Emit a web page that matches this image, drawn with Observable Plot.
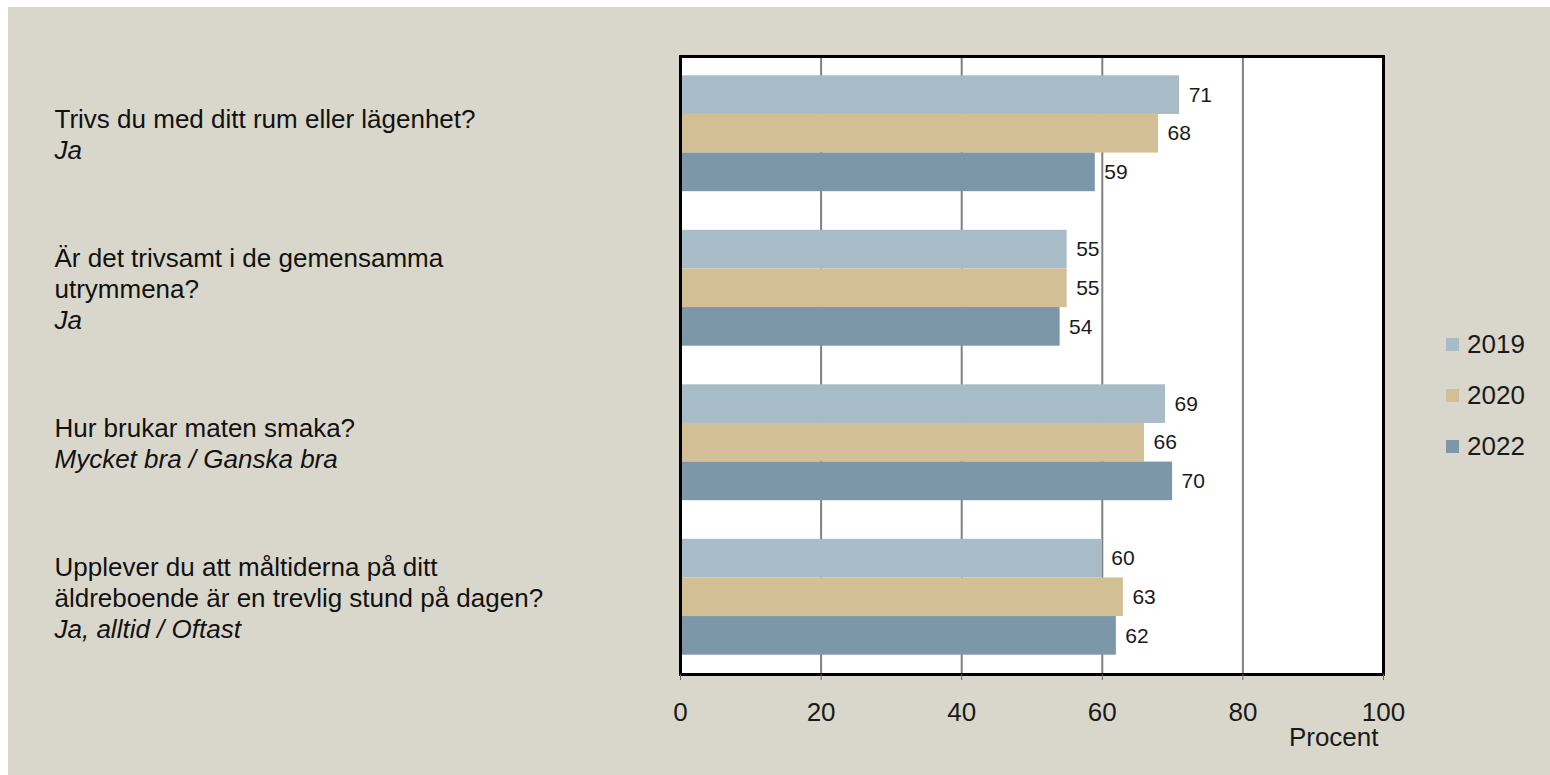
<!DOCTYPE html>
<html><head><meta charset="utf-8">
<script src="https://cdn.jsdelivr.net/npm/d3@7"></script>
<script src="https://cdn.jsdelivr.net/npm/@observablehq/plot@0.6"></script>
<style>
html,body{margin:0;padding:0;background:#fff;}
#page{position:absolute;left:8px;top:7px;width:1542px;height:768px;background:#d9d7cb;overflow:hidden;font-family:'Liberation Sans',Arial,sans-serif;}
#chart{position:absolute;left:0;top:0;}
#legend{position:absolute;left:1438px;top:312px;}
#legend .lg-swatch{height:51px;margin:0 !important;padding:0 !important;}
#legend .lg-swatch svg{margin-right:8px !important;}
</style></head><body>
<div id="page"><div id="chart"></div><div id="legend"></div></div>
<script>
const questions = [
  "Trivs du med ditt rum eller lägenhet?",
  "Är det trivsamt i de gemensamma\nutrymmena?",
  "Hur brukar maten smaka?",
  "Upplever du att måltiderna på ditt\näldreboende är en trevlig stund på dagen?"
];
const answers = ["Ja", "Ja", "Mycket bra / Ganska bra", "Ja, alltid / Oftast"];
const years = ["2019", "2020", "2022"];
const values2019 = [71, 55, 69, 60];
const values2020 = [68, 55, 66, 63];
const values2022 = [59, 54, 70, 62];
const xTicks = [0, 20, 40, 60, 80, 100];
const axisLabel = "Procent";
const colors = ["#a8bcc7", "#d3bf95", "#7b97a8"];

const seriesValues = [values2019, values2020, values2022];
const bars = [];
const yDomain = [];
questions.forEach((q, i) => {
  if (i > 0) yDomain.push("gap" + i);
  years.forEach((yr, j) => {
    const key = i + "|" + yr;
    yDomain.push(key);
    bars.push({key, year: yr, value: seriesValues[j][i]});
  });
});
const labels = questions.map((q, i) => {
  const n = q.split("\n").length;
  return {
    key: i + "|" + years[1],
    q: q + "\n",
    a: "\n".repeat(n) + answers[i]
  };
});

const font = "'Liberation Sans', Arial, sans-serif";
const chart = Plot.plot({
  width: 1542,
  height: 768,
  marginLeft: 672,
  marginRight: 167,
  marginTop: 49,
  marginBottom: 101,
  style: {background: "transparent", fontFamily: font, color: "#1a1a1a"},
  x: {domain: [0, 100]},
  y: {domain: yDomain, paddingInner: 0, paddingOuter: 0.5, round: false, axis: null},
  color: {domain: years, range: colors},
  marks: [
    Plot.frame({fill: "#fff", stroke: null}),
    Plot.gridX({ticks: [20, 40, 60, 80], stroke: "#808080", strokeOpacity: 1, strokeWidth: 2}),
    Plot.barX(bars, {x: "value", y: "key", fill: "year"}),
    Plot.text(bars, {x: "value", y: "key", text: d => String(d.value), dx: 9, textAnchor: "start", fontSize: 21, fill: "#1a1a1a"}),
    Plot.frame({stroke: "#000", strokeWidth: 3}),
    Plot.axisX({ticks: xTicks, tickSize: 6, tickPadding: 22, fontSize: 26, stroke: "#666", fill: "#1a1a1a", label: null, tickFormat: d => String(d)}),
    Plot.text([axisLabel], {frameAnchor: "bottom-right", text: d => d, dy: 63, dx: -5, textAnchor: "end", lineAnchor: "middle", fontSize: 26, fill: "#1a1a1a"}),
    Plot.text(labels, {x: () => 0, y: "key", text: "q", dx: -626, textAnchor: "start", lineAnchor: "middle", fontSize: 26, lineHeight: 1.18, fill: "#111"}),
    Plot.text(labels, {x: () => 0, y: "key", text: "a", dx: -626, textAnchor: "start", lineAnchor: "middle", fontSize: 26, lineHeight: 1.18, fontStyle: "italic", fill: "#111"})
  ]
});
document.getElementById("chart").appendChild(chart);

const legend = Plot.legend({
  color: {domain: years, range: colors},
  legend: "swatches",
  columns: 1,
  swatchSize: 13,
  className: "lg",
  style: {fontSize: "26px", fontFamily: font, color: "#1a1a1a", background: "transparent"}
});
document.getElementById("legend").appendChild(legend);
</script>
</body></html>
